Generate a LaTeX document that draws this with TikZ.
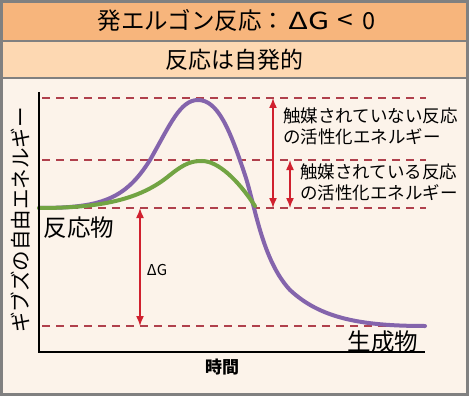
\documentclass[tikz,border=0pt]{standalone}
\usepackage{fontspec}
\setmainfont{Noto Sans CJK JP}
\usetikzlibrary{%
    arrows.meta,
    positioning
}

\definecolor{titleband}{HTML}{F7B57C}
\definecolor{subband}{HTML}{FDD8B2}
\definecolor{paper}{HTML}{FCF3EA}
\definecolor{framegray}{HTML}{808080}
\definecolor{levelred}{HTML}{B0404C}
\definecolor{gapred}{HTML}{D0202E}
\definecolor{uncatpurple}{HTML}{8464AC}
\definecolor{catgreen}{HTML}{72A443}

\tikzset{
    level/.style={levelred, line width=1.5pt, dash pattern=on 8pt off 6pt},
    gap/.style={gapred, line width=1.5pt,
                {Latex[length=10pt,width=8pt]}-{Latex[length=10pt,width=8pt]}},
    energy/.style={line width=4pt, line cap=round},
    note/.style={font=\fontsize{17.5}{21}\selectfont, align=left,
                 inner sep=0pt, anchor=west},
    big/.style={font=\fontsize{23.5}{28}\selectfont, inner sep=0pt}
}

\begin{document}
\begin{tikzpicture}[x=1pt, y=-1pt]
    \useasboundingbox (0,0) rectangle (469,396);

    % bands and frame
    \fill[paper] (0,0) rectangle (469,396);
    \fill[titleband] (0,0) rectangle (469,41);
    \fill[subband] (0,41) rectangle (469,78);
    \draw[framegray, line width=2pt] (0,41) -- (469,41) (0,78) -- (469,78);
    \draw[framegray, line width=3pt] (1.5,1.5) rectangle (467.5,394.5);

    \node[big] (title) at (236.5,20)
        {発エルゴン反応：\hspace{3pt}\scalebox{1.3}[1]{ΔG}\hspace{8pt}\scalebox{1.2}[1.1]{<}\hspace{9pt}0};
    \node[big, font=\fontsize{23}{28}\selectfont] (spont) at (234.5,60) {反応は自発的};

    % energy levels
    \foreach \Name/\Y in {top/98,mid/160,react/208,prod/326} {
        \coordinate (\Name-l) at (42,\Y);
        \coordinate (\Name-r) at (426,\Y);
        \draw[level] (\Name-l) -- (\Name-r);
    }

    % curves
    \draw[energy, uncatpurple]
        (39,208) .. controls (100,208) and (125,200) .. (150,160)
                 .. controls (170,125) and (180,100) .. (198,100)
                 .. controls (218,100) and (230,130) .. (245,175)
                 .. controls (255,205) and (262,260) .. (290,290)
                 .. controls (320,318) and (360,326) .. (425,326);
    \draw[energy, catgreen]
        (39,208) .. controls (100,208) and (140,200) .. (170,175)
                 .. controls (185,163) and (192,161) .. (202,161)
                 .. controls (218,161) and (238,180) .. (255,206);

    % axes
    \coordinate (origin) at (39,352);
    \coordinate (ytop) at (39,92);
    \coordinate (xend) at (425,352);
    \draw[line width=2pt] (ytop) -- (origin) -- (xend);

    % gaps
    \coordinate (dg-a) at (140,208);
    \coordinate (dg-b) at (140,326);
    \coordinate (ua-a) at (273,98);
    \coordinate (ua-b) at (273,208);
    \coordinate (ca-a) at (290,160);
    \coordinate (ca-b) at (290,208);
    \draw[gap] (dg-a) -- (dg-b);
    \draw[gap] (ua-a) -- (ua-b);
    \draw[gap] (ca-a) -- (ca-b);

    \node[font=\fontsize{15}{18}\selectfont, inner sep=0pt] (dg) at (157,270) {ΔG};
    \node[note] (uncat) at (283,126) {触媒されていない反応\\の活性化エネルギー};
    \node[note] (cat) at (300,182.5) {触媒されている反応\\の活性化エネルギー};

    \node[big] (reactant) at (79,228) {反応物};
    \node[big] (product) at (383,342) {生成物};
    \node[font=\bfseries\fontsize{17}{20}\selectfont, inner sep=0pt] (time) at (222,367) {時間};
    \node[font=\fontsize{20.5}{24}\selectfont, inner sep=0pt, rotate=90] (gibbs) at (21,220)
        {ギブズの自由エネルギー};
\end{tikzpicture}
\end{document}
